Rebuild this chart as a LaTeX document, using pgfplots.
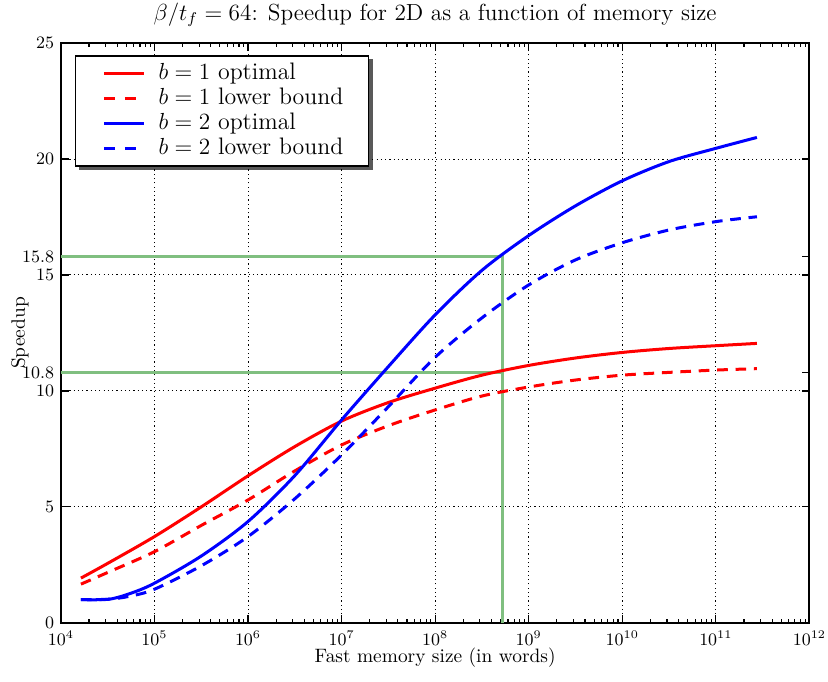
\documentclass[border=0pt]{standalone}
\usepackage{pgfplots}
\pgfplotsset{compat=1.18}
\definecolor{mplgreen}{rgb}{0.5,0.75,0.5}
\pgfdeclarelayer{bg}
\pgfsetlayers{bg,main}
\pgfplotsset{
  solidlegend/.style={legend image code/.code={\path (0pt,0pt); \draw[##1] (3.9pt,0pt) -- (24.5pt,0pt);}},
  dashlegend/.style={legend image code/.code={\path (0pt,0pt); \draw[##1, dash pattern=on 5.5pt off 5.2pt] (3.9pt,0pt) -- (24.5pt,0pt);}},
}
\pgfplotstableread{
x y
16384 1.93
32768 2.6
100000 3.72
316228 5.0
1000000 6.34
3162278 7.6
10000000 8.7
31622777 9.5
100000000 10.12
316227766 10.68
1000000000 11.1
3162277660 11.42
10000000000 11.66
31622776602 11.83
100000000000 11.95
274877906944 12.05
}\redopt
\pgfplotstableread{
x y
16384 1.67
32768 2.2
100000 3.07
316228 4.2
1000000 5.30
3162278 6.55
10000000 7.67
31622777 8.5
100000000 9.18
316227766 9.78
1000000000 10.17
3162277660 10.47
10000000000 10.68
31622776602 10.8
100000000000 10.90
274877906944 10.96
}\redlb
\pgfplotstableread{
x y
16384 1.0
32768 1.02
56234 1.28
100000 1.71
316228 2.88
1000000 4.37
3162278 6.35
10000000 8.75
31622777 11.05
100000000 13.28
316227766 15.2
1000000000 16.7
3162277660 17.98
10000000000 19.06
31622776602 19.89
100000000000 20.46
274877906944 20.93
}\blueopt
\pgfplotstableread{
x y
16384 1.0
32768 1.02
56234 1.16
100000 1.45
316228 2.46
1000000 3.72
3162278 5.35
10000000 7.24
31622777 9.32
100000000 11.45
316227766 13.15
1000000000 14.57
3162277660 15.65
10000000000 16.39
31622776602 16.94
100000000000 17.30
274877906944 17.51
}\bluelb
\begin{document}
\begin{tikzpicture}
\useasboundingbox (-31.4pt,-30.4pt) rectangle (395.6pt,321.2pt);
\begin{axis}[
  at={(0,0)}, anchor=south west,
  scale only axis, width=386pt, height=299pt,
  xmode=log, xmin=1e4, xmax=1e12, ymin=0, ymax=25,
  xtick={1e4,1e5,1e6,1e7,1e8,1e9,1e10,1e11,1e12},
  minor xtick={2e4,3e4,4e4,5e4,6e4,7e4,8e4,9e4,
    2e5,3e5,4e5,5e5,6e5,7e5,8e5,9e5,
    2e6,3e6,4e6,5e6,6e6,7e6,8e6,9e6,
    2e7,3e7,4e7,5e7,6e7,7e7,8e7,9e7,
    2e8,3e8,4e8,5e8,6e8,7e8,8e8,9e8,
    2e9,3e9,4e9,5e9,6e9,7e9,8e9,9e9,
    2e10,3e10,4e10,5e10,6e10,7e10,8e10,9e10,
    2e11,3e11,4e11,5e11,6e11,7e11,8e11,9e11},
  ytick={0,5,10,15,20,25},
  extra y ticks={10.8,15.8},
  extra y tick style={grid=none},
  tick align=inside,
  major tick length=4pt, minor tick length=2pt,
  tick style={black, line width=0.6pt},
  axis line style={line width=1pt},
  grid=major,
  major grid style={black, line width=0.5pt, dash pattern=on 0.6pt off 1.6pt},
  ticklabel style={font=\fontsize{9}{11}\selectfont},
  xticklabel style={anchor=base, inner ysep=0pt, yshift=-11.7pt},
  yticklabel style={inner ysep=0pt},
  xlabel={Fast memory size (in words)},
  ylabel={Speedup},
  label style={font=\fontsize{10}{12}\selectfont},
  xlabel style={at={(axis description cs:0.5,-0.0679)}, anchor=base, inner sep=0pt},
  ylabel style={at={(axis description cs:-0.0547,0.5)}, anchor=center, rotate=0},
  title={$\beta/t_f = 64$: Speedup for 2D as a function of memory size},
  title style={font=\fontsize{12}{14}\selectfont, at={(axis description cs:0.5,1)}, anchor=base, yshift=5.7pt},
  legend cell align=left,
  solidlegend,
  legend style={name=mylegend, at={(axis description cs:0.0187,0.979)}, anchor=north west,
    draw=black, line width=0.8pt, fill=white,
    font=\fontsize{12.3}{14}\selectfont,
    inner xsep=10pt, inner ysep=3pt, row sep=1pt, column sep=3.7pt,
    nodes={inner xsep=3pt, inner ysep=0.5pt, text height=8.5pt, text depth=2.4pt}},
]
\addplot[mplgreen, line width=1.5pt, forget plot] coordinates {(1e4,15.8) (5.2e8,15.8) (5.2e8,0)};
\addplot[mplgreen, line width=1.5pt, forget plot] coordinates {(1e4,10.8) (5.2e8,10.8)};
\addplot[red, line width=1.55pt, smooth] table {\redopt};
\addlegendentry{$b=1$ optimal}
\addplot[red, line width=1.55pt, smooth, dash pattern=on 5.5pt off 4pt, dashlegend] table {\redlb};
\addlegendentry{$b=1$ lower bound}
\addplot[blue, line width=1.55pt, smooth] table {\blueopt};
\addlegendentry{$b=2$ optimal}
\addplot[blue, line width=1.55pt, smooth, dash pattern=on 5.5pt off 4pt, dashlegend] table {\bluelb};
\addlegendentry{$b=2$ lower bound}
\end{axis}
\begin{pgfonlayer}{bg}
\fill[black!65] ([xshift=2pt,yshift=-2pt]mylegend.south west) rectangle ([xshift=2pt,yshift=-2pt]mylegend.north east);
\end{pgfonlayer}
\end{tikzpicture}
\end{document}
